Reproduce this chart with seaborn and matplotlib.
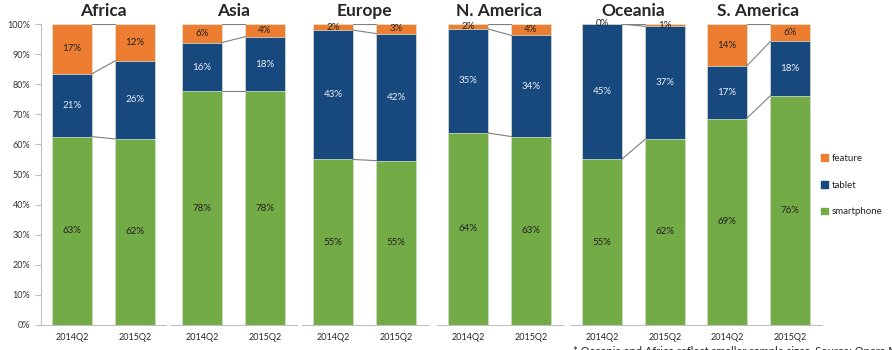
import pandas as pd
import matplotlib.pyplot as plt
import seaborn as sns
from matplotlib.patches import Patch

# Dados: participação (%) por região e trimestre
regioes = ["Africa", "Asia", "Europe", "N. America", "Oceania", "S. America"]
trimestres = ["2014Q2", "2015Q2"]
smartphone = [62.6, 61.8, 77.6, 77.6, 55.0, 54.6, 63.8, 62.6, 55.0, 61.8, 68.6, 76.2]
tablet = [20.8, 26.0, 16.2, 18.2, 43.0, 42.2, 34.6, 33.6, 45.0, 37.4, 17.4, 18.0]
feature = [16.6, 12.2, 6.2, 4.2, 2.0, 3.2, 1.6, 3.8, 0.0, 0.8, 14.0, 5.8]

cores = {"feature": "#ED7D31", "tablet": "#17497F", "smartphone": "#73AB47"}

df = pd.DataFrame({
    "regiao": [r for r in regioes for _ in trimestres],
    "trimestre": trimestres * len(regioes),
    "smartphone": smartphone,
    "tablet": tablet,
    "feature": feature,
})
df["cum_smart"] = df["smartphone"]
df["cum_tablet"] = df["smartphone"] + df["tablet"]
df["cum_total"] = df["cum_tablet"] + df["feature"]

sns.set_style("white")
plt.rcParams["font.family"] = ["Lato", "DejaVu Sans"]

fig = plt.figure(figsize=(8.92, 3.5), dpi=100)
W, H = 892, 350
largura_barra = 0.62
centros = [72, 202, 333, 468, 602, 727]
slot = 63

for i, reg in enumerate(regioes):
    esq = centros[i] - slot / 2
    ax = fig.add_axes([esq / W, 25 / H, 2 * slot / W, 301 / H])
    sub = df[df["regiao"] == reg].reset_index(drop=True)

    # barras empilhadas (desenhadas do total para baixo)
    for col, cor in [("cum_total", "feature"), ("cum_tablet", "tablet"), ("cum_smart", "smartphone")]:
        sns.barplot(data=sub, x="trimestre", y=col, order=trimestres, color=cores[cor],
                    width=largura_barra, saturation=1, edgecolor="#dfe8d5", linewidth=0.5,
                    errorbar=None, ax=ax)

    # linhas de série entre as barras
    for col in ["cum_smart", "cum_tablet", "cum_total"]:
        ax.plot([largura_barra / 2, 1 - largura_barra / 2], [sub[col][0], sub[col][1]],
                color="#7f7f7f", lw=0.8, zorder=1)

    # rótulos
    for j in range(len(sub)):
        s, t, f = sub["smartphone"][j], sub["tablet"][j], sub["feature"][j]
        ax.text(j, s / 2, f"{round(s)}%", ha="center", va="center", fontsize=7, color="#222222")
        ax.text(j, s + t / 2, f"{round(t)}%", ha="center", va="center", fontsize=7, color="#e8eef5")
        ax.text(j, s + t + f / 2, f"{round(f)}%", ha="center", va="center", fontsize=7, color="#222222")

    ax.set_xlim(-0.5, 1.5)
    ax.set_ylim(0, 100)
    ax.set_xlabel("")
    ax.set_ylabel("")
    ax.set_title(reg, fontsize=12.5, fontweight="bold", pad=5.5)
    ax.set_xticks([-0.5, 0.5, 1.5], minor=True)
    ax.tick_params(axis="x", which="major", length=0, labelsize=6.5, pad=6)
    ax.tick_params(axis="x", which="minor", length=4, color="#bfbfbf", width=0.8)
    for lado in ["top", "right", "left"]:
        ax.spines[lado].set_visible(False)
    ax.spines["bottom"].set_color("#bfbfbf")
    ax.spines["bottom"].set_linewidth(0.8)
    if i == 0:
        ax.spines["left"].set_visible(True)
        ax.spines["left"].set_color("#bfbfbf")
        ax.spines["left"].set_linewidth(0.8)
        ax.set_yticks(range(0, 101, 10))
        ax.set_yticklabels([f"{v}%" for v in range(0, 101, 10)])
        ax.tick_params(axis="y", length=4, color="#bfbfbf", labelsize=6.5, left=True,
                       labelcolor="#333333")
    else:
        ax.set_yticks([])

handles = [Patch(color=cores[k]) for k in ["feature", "tablet", "smartphone"]]
fig.legend(handles, ["feature", "tablet", "smartphone"], loc="center left",
           bbox_to_anchor=(812 / W, 165 / H), frameon=False, fontsize=7,
           handlelength=0.7, handleheight=0.7, handletextpad=0.4, labelspacing=1.85)

fig.text(573 / W, 4 / H, "* Oceania and Africa reflect smaller sample sizes. Source: Opera Mediaworks",
         fontsize=8, va="top", ha="left")

fig.savefig("out.png", dpi=100)
